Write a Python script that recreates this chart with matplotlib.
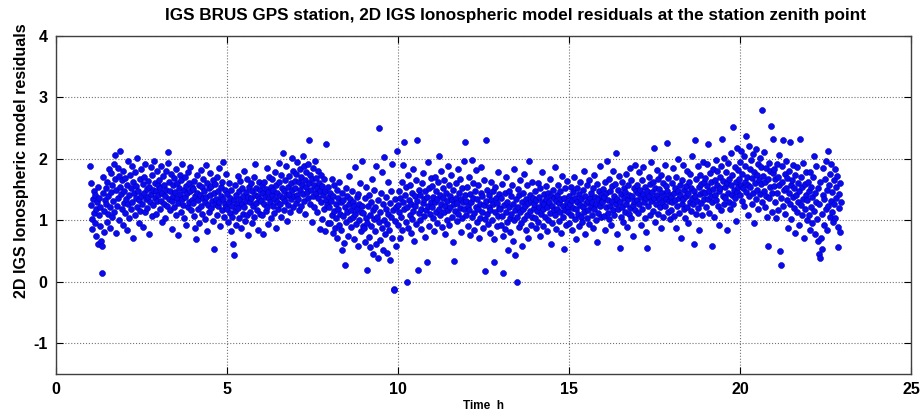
import numpy as np
import matplotlib.pyplot as plt

plt.rcParams['axes.unicode_minus'] = False

# residuals, one block per hour (1h .. 23h)
resid = [
    1.89, 1.61, 1.25, 1.02, 0.86, 1.34, 1.48, 1.12, 0.95, 1.41, 1.18, 0.74, 1.29, 1.55, 0.62, 1.08, 1.37, 0.91, 1.22, 0.66,
    0.58, 0.15, 1.44, 1.71, 1.15, 0.81, 1.33, 1.52, 1.27, 0.98, 1.63, 1.10, 1.39, 1.84, 1.21, 0.88, 1.46, 1.77, 1.05, 1.58,
    1.32, 1.92, 1.14, 1.67, 2.06, 1.49, 0.79, 1.24, 1.85, 1.36, 1.72, 1.01, 1.54, 2.13, 1.43, 1.19, 1.65, 0.93, 1.81, 1.28,
    # 2h
    1.47, 1.12, 1.69, 1.35, 0.84, 1.58, 1.96, 1.26, 1.41, 1.03, 1.74, 1.52, 1.18, 1.88, 1.30, 0.71, 1.62, 1.44, 1.09, 1.79,
    1.37, 1.56, 1.22, 2.01, 1.48, 0.96, 1.33, 1.68, 1.15, 1.83, 1.40, 1.27, 1.59, 0.89, 1.71, 1.45, 1.13, 1.92, 1.34, 1.51,
    1.20, 1.64, 1.38, 0.78, 1.55, 1.29, 1.86, 1.43, 1.07, 1.73, 1.50, 1.25, 1.97, 1.36, 1.61, 1.11, 1.47, 1.80, 1.31, 1.57,
    # 3h
    1.42, 1.66, 1.19, 1.53, 1.88, 1.31, 0.97, 1.45, 1.72, 1.26, 1.58, 1.04, 1.39, 1.81, 1.50, 1.23, 1.94, 2.11, 1.35, 1.62,
    1.17, 1.48, 1.76, 1.32, 0.86, 1.57, 1.40, 1.21, 1.69, 1.46, 1.09, 1.83, 1.37, 1.60, 0.76, 1.28, 1.52, 1.74, 1.43, 1.14,
    1.65, 1.34, 1.91, 1.25, 1.49, 1.03, 1.70, 1.38, 1.56, 0.92, 1.44, 1.79, 1.22, 1.61, 1.30, 1.86, 1.47, 1.16, 1.54, 1.33,
    # 4h
    1.28, 1.51, 1.07, 1.64, 1.39, 0.88, 0.70, 1.45, 1.73, 1.19, 1.33, 1.58, 0.95, 1.42, 1.82, 1.24, 1.55, 1.11, 1.36, 1.68,
    1.47, 1.02, 1.29, 1.90, 1.38, 1.61, 0.83, 1.25, 1.53, 1.14, 1.77, 1.41, 1.20, 1.56, 1.32, 0.99, 1.66, 1.44, 0.54, 1.27,
    1.59, 1.35, 1.08, 1.71, 1.48, 1.23, 1.85, 1.30, 0.91, 1.54, 1.40, 1.17, 1.62, 1.95, 1.34, 1.05, 1.49, 1.26, 1.75, 1.21,
    # 5h
    1.18, 1.43, 0.97, 1.30, 1.61, 1.12, 1.37, 0.82, 1.50, 1.24, 1.06, 0.61, 0.44, 1.33, 1.58, 1.15, 1.41, 0.93, 1.27, 1.72,
    1.20, 1.48, 1.03, 1.35, 1.64, 0.88, 1.26, 1.52, 1.10, 1.40, 1.81, 1.22, 0.99, 1.46, 1.31, 1.67, 1.08, 1.38, 0.76, 1.55,
    1.29, 1.14, 1.60, 1.36, 0.95, 1.47, 1.23, 1.70, 1.05, 1.42, 1.92, 1.28, 1.53, 1.17, 1.39, 0.85, 1.62, 1.34, 1.11, 1.49,
    # 6h
    1.32, 1.57, 1.09, 1.44, 0.78, 1.26, 1.63, 1.38, 1.15, 1.51, 1.85, 1.21, 1.46, 0.94, 1.36, 1.70, 1.29, 1.55, 1.04, 1.41,
    1.67, 1.23, 1.49, 1.12, 1.78, 1.35, 1.58, 0.87, 1.30, 1.45, 1.19, 1.62, 1.93, 1.40, 1.27, 1.74, 1.06, 1.53, 2.10, 1.37,
    1.48, 1.16, 1.66, 1.31, 1.89, 1.42, 0.99, 1.55, 1.25, 1.72, 1.43, 1.13, 1.60, 1.34, 2.02, 1.50, 1.22, 1.81, 1.39, 1.64,
    # 7h
    1.53, 1.28, 1.76, 1.41, 1.95, 1.35, 1.62, 1.17, 1.84, 1.49, 1.70, 1.24, 1.58, 2.04, 1.43, 1.88, 1.32, 1.66, 1.10, 1.55,
    1.79, 1.46, 1.92, 1.37, 2.30, 1.61, 1.26, 1.73, 1.50, 0.98, 1.67, 1.40, 1.85, 1.21, 1.57, 1.97, 1.44, 1.69, 1.14, 1.52,
    1.36, 1.81, 1.60, 0.86, 1.47, 1.74, 1.29, 1.56, 1.02, 1.42, 1.68, 1.19, 1.48, 0.83, 1.33, 2.24, 1.25, 1.54, 0.95, 1.38,
    # 8h
    1.22, 1.45, 0.96, 1.31, 1.67, 1.08, 0.79, 1.39, 1.15, 1.58, 0.88, 1.26, 1.04, 1.49, 0.71, 1.18, 1.36, 0.92, 1.63, 1.11,
    1.29, 0.84, 1.44, 0.52, 1.07, 1.33, 0.63, 0.28, 1.21, 1.52, 0.98, 1.40, 1.13, 0.75, 1.27, 1.72, 1.02, 1.35, 0.89, 1.16,
    1.48, 1.05, 1.30, 0.69, 1.24, 1.86, 1.10, 0.94, 1.38, 1.19, 0.58, 1.43, 1.00, 1.26, 1.61, 0.82, 1.14, 1.97, 1.23, 0.90,
    # 9h
    1.12, 0.87, 1.36, 0.64, 1.03, 1.55, 0.20, 0.95, 1.24, 0.73, 1.41, 1.08, 0.56, 1.30, 0.91, 1.68, 1.17, 0.45, 1.02, 1.49,
    0.82, 1.21, 0.61, 1.88, 1.06, 0.39, 1.33, 2.50, 0.97, 1.14, 0.68, 1.45, 0.88, 1.79, 1.26, 0.52, 1.01, 2.03, 0.77, 1.19,
    1.38, 0.94, 0.47, 1.11, 1.63, 0.84, 1.28, 0.35, 1.05, 1.47, 0.71, 1.92, 1.16, -0.12, -0.13, 0.99, 1.34, 0.59, 1.22, 2.12,
    # 10h
    1.25, 0.92, 1.48, 1.13, 0.71, 1.37, 1.06, 1.62, 0.85, 1.29, 1.90, 1.18, 2.28, 1.41, 0.98, 1.55, 0.00, 1.21, 1.73, 0.88,
    1.33, 1.09, 1.57, 0.79, 1.26, 1.44, 1.02, 1.84, 1.15, 0.67, 1.39, 1.23, 1.66, 0.94, 2.30, 1.31, 0.19, 1.12, 1.50, 1.00,
    1.42, 1.19, 0.86, 1.60, 1.28, 1.77, 1.07, 1.35, 0.73, 1.47, 1.16, 0.33, 1.38, 1.95, 1.24, 0.90, 1.53, 1.11, 1.69, 1.30,
    # 11h
    1.21, 1.56, 1.04, 1.38, 0.83, 1.29, 1.71, 1.14, 1.47, 0.96, 1.34, 1.62, 1.19, 2.05, 1.42, 1.08, 1.27, 1.81, 0.89, 1.52,
    1.36, 1.13, 1.66, 1.24, 0.77, 1.45, 1.01, 1.31, 1.89, 1.17, 1.58, 0.92, 1.40, 1.22, 1.74, 1.06, 1.33, 0.64, 1.49, 1.26,
    0.34, 1.15, 1.61, 1.37, 0.99, 1.28, 1.83, 1.10, 1.44, 1.20, 1.67, 0.81, 1.35, 1.53, 1.03, 1.30, 1.96, 1.18, 1.41, 2.27,
    # 12h
    1.32, 1.08, 1.55, 0.91, 1.24, 1.70, 1.16, 1.43, 0.76, 1.29, 1.98, 1.05, 1.37, 1.61, 1.12, 0.85, 1.48, 1.21, 1.82, 0.97,
    1.34, 1.19, 1.58, 0.72, 1.27, 1.04, 1.45, 1.87, 1.13, 1.39, 0.88, 1.25, 1.65, 1.02, 0.18, 1.31, 2.31, 1.10, 1.50, 0.94,
    1.22, 1.41, 0.80, 1.17, 1.63, 1.33, 1.01, 1.47, 1.26, 0.69, 0.33, 1.14, 1.54, 1.36, 0.90, 1.28, 1.78, 1.07, 1.43, 1.20,
    # 13h
    1.18, 0.92, 1.36, 1.07, 1.59, 0.74, 0.14, 1.25, 1.44, 0.86, 1.13, 1.70, 0.98, 1.30, 0.52, 1.21, 1.48, 1.03, 0.81, 1.39,
    1.11, 1.57, 0.67, 1.27, 1.00, 1.84, 1.16, 0.43, 1.34, 1.06, 0.00, 1.22, 1.51, 0.89, 1.41, 1.14, 1.65, 0.96, 1.29, 0.58,
    1.19, 1.45, 1.02, 1.76, 1.24, 0.84, 1.35, 1.09, 1.58, 0.71, 1.28, 1.97, 1.15, 1.42, 0.93, 1.31, 1.62, 1.05, 1.37, 1.20,
    # 14h
    1.26, 1.04, 1.47, 0.88, 1.33, 1.15, 1.61, 0.97, 1.38, 1.22, 0.75, 1.53, 1.10, 1.30, 1.79, 1.18, 0.91, 1.43, 1.27, 1.06,
    1.35, 1.56, 0.82, 1.21, 1.44, 1.01, 1.29, 1.68, 1.12, 0.62, 1.39, 1.24, 0.95, 1.50, 1.17, 1.36, 1.86, 1.08, 1.32, 0.86,
    1.41, 1.19, 1.58, 0.99, 1.28, 1.13, 1.47, 0.79, 1.34, 1.72, 1.23, 1.05, 0.54, 1.37, 1.16, 1.52, 0.93, 1.30, 1.64, 1.21,
    # 15h
    1.14, 1.39, 0.96, 1.27, 1.55, 1.08, 1.33, 0.84, 1.46, 1.20, 1.71, 1.02, 1.37, 1.18, 0.69, 1.29, 1.52, 1.11, 1.43, 0.90,
    1.25, 1.62, 1.06, 1.34, 0.98, 1.49, 1.21, 1.81, 1.13, 1.40, 0.77, 1.28, 1.57, 1.03, 1.31, 1.17, 1.66, 0.94, 1.36, 1.24,
    1.45, 1.09, 1.30, 0.87, 1.53, 1.19, 1.74, 1.38, 1.00, 1.26, 1.59, 0.64, 1.35, 1.12, 1.47, 1.89, 1.23, 1.05, 1.42, 1.32,
    # 16h
    1.29, 1.51, 1.07, 1.38, 0.85, 1.62, 1.21, 1.44, 1.96, 1.12, 1.33, 1.68, 1.02, 1.47, 1.24, 0.93, 1.56, 1.31, 1.80, 1.16,
    1.40, 1.09, 1.59, 1.26, 2.10, 1.35, 0.78, 1.49, 1.18, 1.72, 0.55, 1.30, 1.05, 1.43, 1.63, 1.22, 0.97, 1.37, 1.53, 1.14,
    1.46, 1.27, 1.76, 0.89, 1.34, 1.58, 1.11, 1.41, 1.85, 1.20, 1.65, 1.03, 1.39, 1.25, 0.74, 1.52, 1.32, 1.90, 1.17, 1.48,
    # 17h
    1.33, 1.57, 1.12, 1.45, 1.78, 1.26, 1.50, 0.92, 1.38, 1.66, 1.19, 1.43, 1.87, 1.30, 1.04, 1.55, 1.36, 0.81, 0.55, 1.48,
    1.23, 1.71, 1.40, 1.08, 1.59, 1.32, 1.95, 1.46, 1.15, 1.62, 2.18, 1.37, 0.98, 1.53, 1.27, 1.82, 1.41, 1.10, 1.67, 1.34,
    1.51, 1.21, 1.74, 0.87, 1.44, 1.29, 1.60, 1.06, 1.39, 1.90, 1.24, 1.56, 1.35, 2.26, 1.47, 1.13, 1.69, 1.31, 1.02, 1.42,
    # 18h
    1.38, 1.16, 1.61, 1.29, 1.85, 1.44, 1.07, 1.52, 1.33, 0.88, 1.70, 1.24, 1.47, 1.99, 1.36, 1.12, 1.58, 1.41, 0.71, 1.27,
    1.65, 1.34, 1.90, 1.19, 1.49, 1.03, 1.56, 1.39, 1.80, 1.22, 1.45, 0.96, 1.62, 1.30, 1.75, 1.15, 1.53, 1.37, 2.05, 1.26,
    1.48, 0.62, 2.31, 1.40, 1.11, 1.67, 1.32, 1.88, 1.20, 1.55, 0.84, 1.43, 1.73, 1.28, 1.59, 1.09, 1.46, 1.95, 1.35, 1.63,
    # 19h
    1.44, 1.69, 1.21, 1.56, 1.92, 1.35, 2.24, 1.48, 1.12, 1.77, 1.39, 1.62, 0.58, 1.29, 1.84, 1.51, 1.05, 1.66, 1.42, 1.98,
    1.33, 1.58, 1.80, 1.24, 1.47, 0.93, 1.71, 1.53, 1.16, 1.88, 2.32, 1.40, 1.64, 1.27, 2.02, 1.55, 1.36, 1.79, 0.84, 1.61,
    1.45, 1.93, 1.30, 1.68, 1.18, 1.57, 2.10, 1.41, 1.74, 1.26, 2.52, 1.50, 1.87, 1.37, 0.99, 1.63, 2.17, 1.46, 1.82, 1.54,
    # 20h
    1.67, 1.42, 1.95, 1.58, 2.13, 1.31, 1.76, 1.52, 2.04, 1.24, 1.63, 1.88, 2.37, 1.46, 1.71, 1.09, 1.57, 2.21, 1.39, 1.83,
    1.54, 1.98, 1.27, 1.69, 2.08, 1.45, 1.79, 0.96, 1.61, 2.16, 1.35, 1.74, 1.50, 1.91, 1.18, 1.66, 2.01, 1.43, 1.86, 1.59,
    1.30, 2.79, 1.72, 1.48, 2.11, 1.62, 1.21, 1.85, 1.40, 1.06, 0.59, 1.68, 1.94, 1.37, 1.55, 1.80, 2.54, 1.44, 1.13, 1.77,
    # 21h
    2.32, 1.56, 1.83, 1.29, 1.67, 1.04, 1.92, 1.45, 1.71, 1.17, 1.58, 2.06, 0.50, 1.36, 0.28, 1.62, 1.88, 1.24, 2.31, 1.49,
    1.75, 1.11, 1.53, 1.96, 1.33, 1.69, 0.87, 1.44, 1.81, 1.26, 2.28, 1.57, 1.02, 1.65, 1.38, 1.90, 1.20, 1.52, 0.79, 1.73,
    1.41, 1.14, 1.86, 1.30, 1.61, 0.93, 1.47, 2.33, 1.25, 1.70, 1.08, 1.54, 1.94, 1.35, 0.72, 1.59, 1.19, 1.79, 1.42, 1.01,
    # 22h
    1.33, 1.62, 1.08, 1.47, 0.85, 1.79, 1.21, 1.54, 0.96, 1.38, 1.70, 1.15, 2.05, 1.44, 0.78, 1.29, 1.88, 1.02, 0.66, 1.52,
    0.45, 1.26, 0.39, 1.63, 0.72, 1.11, 0.53, 1.41, 1.85, 0.92, 1.35, 1.68, 1.18, 1.97, 0.84, 1.49, 2.12, 1.24, 1.57, 1.06,
    1.76, 1.32, 1.91, 1.14, 1.46, 0.98, 1.66, 1.27, 1.83, 1.03, 1.55, 1.37, 1.72, 0.89, 0.57, 1.43, 1.20, 1.61, 0.81, 1.30,
]

# evenly spaced epochs between first and last sample (hours)
t_first, t_last = 1.0, 22.95
t = np.linspace(t_first, t_last, len(resid))

xticks = [0, 5, 10, 15, 20, 25]
yticks = [-1, 0, 1, 2, 3, 4]

fnt = ['Liberation Sans', 'DejaVu Sans']

fig = plt.figure(figsize=(9.24, 4.17), dpi=100)
ax = fig.add_axes([0.0606, 0.103, 0.9254, 0.811])

ax.plot(t, resid, 'o', color='#0a0af0', markersize=4.3, markeredgewidth=0.4,
        markeredgecolor='#0000b4')

ax.set_xlim(0, 25)
ax.set_ylim(-1.5, 4)
ax.set_xticks(xticks)
ax.set_yticks(yticks)
ax.grid(True, linestyle=':', color='0.45', linewidth=0.8)
ax.tick_params(direction='in', length=5, top=True, right=True, labelsize=11.5, pad=6)
for lab in ax.get_xticklabels() + ax.get_yticklabels():
    lab.set_fontweight('bold')
    lab.set_family(fnt)
for s in ax.spines.values():
    s.set_color('0.25')
    s.set_linewidth(1)

ax.set_xlabel('Time  h', fontsize=8.5, fontweight='bold', family=fnt, labelpad=2)
ax.set_ylabel('2D IGS Ionospheric model residuals', fontsize=11.5, fontweight='bold', family=fnt)
ax.yaxis.set_label_coords(-0.031, 0.63)
fig.text(0.558, 0.962, 'IGS BRUS GPS station, 2D IGS Ionospheric model residuals at the station zenith point',
         ha='center', va='center', fontsize=12.3, fontweight='bold', family=fnt)

fig.savefig('out.png', dpi=100)
